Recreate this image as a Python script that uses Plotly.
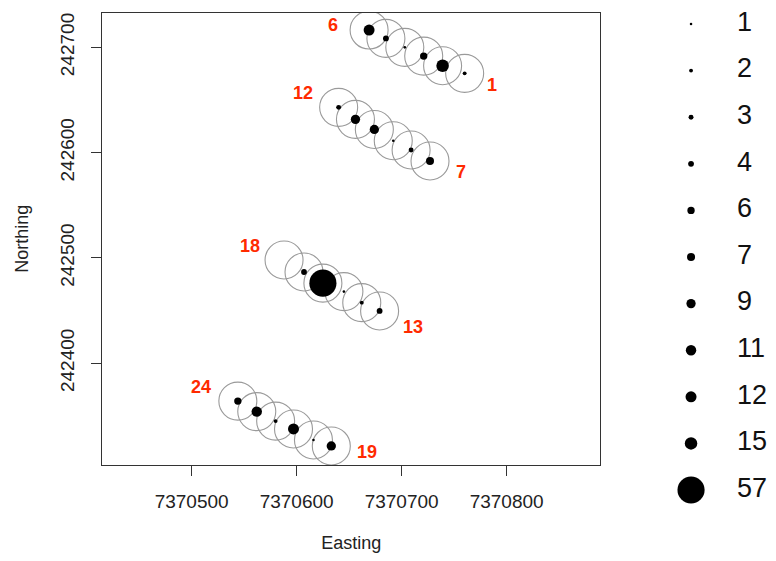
import plotly.graph_objects as go

# ---- data ----
point_id = list(range(1, 25))
easting = [7370760, 7370739, 7370721, 7370703, 7370685, 7370669,
           7370727, 7370709, 7370692, 7370674, 7370656, 7370640,
           7370679, 7370662, 7370645, 7370625, 7370607, 7370588,
           7370633, 7370616, 7370597, 7370580, 7370562, 7370544]
northing = [242675.3, 242682.5, 242691.7, 242700.0, 242708.5, 242716.4,
            242592.0, 242602.5, 242611.3, 242622.0, 242631.6, 242643.0,
            242449.6, 242457.5, 242468.0, 242476.0, 242486.6, 242498.0,
            242321.4, 242327.0, 242337.5, 242345.0, 242354.0, 242364.0]
count = [2, 15, 6, 1, 4, 12,
         7, 3, 1, 9, 9, 3,
         4, 2, 1, 57, 4, 0,
         9, 1, 12, 2, 11, 6]
legend_values = [1, 2, 3, 4, 6, 7, 9, 11, 12, 15, 57]
labelled_ids = [6, 1, 12, 7, 18, 13, 24, 19]
x_ticks = [7370500, 7370600, 7370700, 7370800]
y_ticks = [242400, 242500, 242600, 242700]

# ---- styling ----
OFF = 8  # page body margin
W, H = 776 - 2 * OFF, 561 - 2 * OFF
FONT = "Liberation Sans, Arial, sans-serif"
label_shift = {6: (-36, 5), 1: (27, -12), 12: (-36, 14), 7: (31, -11),
               18: (-34, 14), 13: (33, -16), 24: (-37, 14), 19: (36, -6)}


def dot_size(v):
    return 2.6 * v ** 0.58 if v > 0 else 0


fig = go.Figure()

# buffer circles
fig.add_trace(go.Scatter(
    x=easting, y=northing, mode="markers",
    marker=dict(symbol="circle-open", size=38, color="#9a9a9a", opacity=1,
                line=dict(color="#9a9a9a", width=1.1)),
    hoverinfo="skip", showlegend=False))

# count dots
fig.add_trace(go.Scatter(
    x=easting, y=northing, mode="markers",
    marker=dict(symbol="circle", size=[dot_size(v) for v in count],
                color="black", opacity=1, line=dict(width=0)),
    text=[str(v) for v in count], showlegend=False))

# red id labels
for pid in labelled_ids:
    i = point_id.index(pid)
    dx, dy = label_shift[pid]
    fig.add_annotation(x=easting[i], y=northing[i], text=f"<b>{pid}</b>",
                       showarrow=False, xshift=dx, yshift=dy,
                       font=dict(family=FONT, size=18, color="#ff2a00"))

# manual size legend
rows = list(range(len(legend_values)))
fig.add_trace(go.Scatter(
    x=[0.48] * len(rows), y=rows, mode="markers", xaxis="x2", yaxis="y2",
    marker=dict(symbol="circle", size=[dot_size(v) for v in legend_values],
                color="black", opacity=1, line=dict(width=0)),
    cliponaxis=False, hoverinfo="skip", showlegend=False))
fig.add_trace(go.Scatter(
    x=[0.79] * len(rows), y=rows, mode="text", xaxis="x2", yaxis="y2",
    text=[str(v) for v in legend_values], textposition="middle right",
    textfont=dict(family=FONT, size=27, color="#111"),
    cliponaxis=False, hoverinfo="skip", showlegend=False))

axis_common = dict(showline=True, mirror=True, linecolor="#333", linewidth=1.3,
                   ticks="outside", ticklen=10, tickwidth=1.3, tickcolor="#333",
                   showgrid=False, zeroline=False, automargin=False,
                   tickfont=dict(family=FONT, size=19, color="#222"))

fig.update_layout(
    width=W, height=H, margin=dict(l=0, r=0, t=0, b=0, autoexpand=False),
    paper_bgcolor="white", plot_bgcolor="white",
    xaxis=dict(domain=[(102.3 - OFF) / W, (600 - OFF) / W],
               range=[7370414.9, 7370888.9],
               tickvals=x_ticks, ticktext=[str(v) for v in x_ticks],
               ticklabelstandoff=9,
               title=dict(text="Easting", standoff=32,
                          font=dict(family=FONT, size=18, color="#222")),
               **axis_common),
    yaxis=dict(domain=[1 - (465 - OFF) / H, 1 - (12.7 - OFF) / H],
               range=[242303.3, 242732.9],
               tickvals=y_ticks, ticktext=[str(v) for v in y_ticks],
               tickangle=-90, ticklabelstandoff=10,
               title=dict(text="Northing", standoff=23,
                          font=dict(family=FONT, size=18, color="#222")),
               **axis_common),
    xaxis2=dict(domain=[(620 - OFF) / W, 1], range=[0, 1], visible=False,
                anchor="y2", automargin=False),
    yaxis2=dict(domain=[0, 1], range=[(H - 16) / 46.6, -16 / 46.6],
                visible=False, anchor="x2", automargin=False),
)

fig.write_html("out.html")
